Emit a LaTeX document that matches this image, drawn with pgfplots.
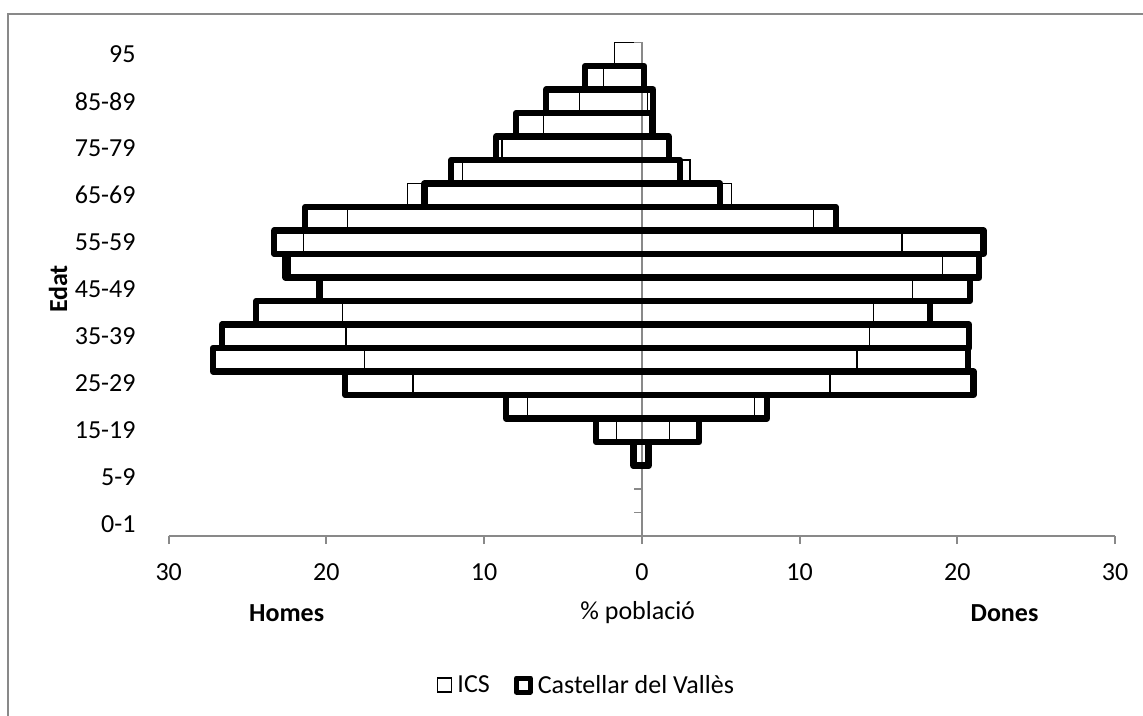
\documentclass[border=0pt]{standalone}
\usepackage{fontspec}
\setmainfont{Carlito}
\usepackage{pgfplots}
\usepackage{pgfplotstable}
\pgfplotsset{compat=1.18}
\definecolor{axgray}{RGB}{137,137,137}
\newcommand{\bigfont}{\fontsize{26}{31}\selectfont}

% ICS: men (negative) and women (positive), % of population by age group index
\pgfplotstableread{
y icsm icsw
3 -0.33 0.22
4 -1.60 1.74
5 -7.24 7.13
6 -14.52 11.93
7 -17.59 13.64
8 -18.75 14.42
9 -18.96 14.69
10 -20.30 17.16
11 -22.30 19.06
12 -21.45 16.49
13 -18.68 10.89
14 -14.88 5.69
15 -11.36 3.05
16 -8.86 1.62
17 -6.24 0.48
18 -3.96 0.37
19 -2.44 0.05
20 -1.74 0.00
}\icsdata

% Castellar del Valles
\pgfplotstableread{
y cm cw
3 -0.54 0.43
4 -2.90 3.64
5 -8.61 7.93
6 -18.81 21.03
7 -27.20 20.69
8 -26.63 20.75
9 -24.45 18.28
10 -20.44 20.80
11 -22.60 21.40
12 -23.30 21.66
13 -21.34 12.30
14 -13.78 4.95
15 -12.09 2.42
16 -9.24 1.70
17 -7.97 0.73
18 -6.07 0.72
19 -3.60 0.15
}\castdata

\begin{document}
\begin{tikzpicture}
\useasboundingbox (0pt,0pt) rectangle (1143pt,715pt);
\draw[axgray, line width=2pt] (8pt,-2pt) -- (8pt,701pt) -- (1145pt,701pt);

% ICS bars (white fill, thin outline)
\begin{axis}[
  at={(168.7pt,179pt)}, anchor=south west,
  scale only axis, width=946.3pt, height=493.5pt,
  xmin=-30, xmax=30, ymin=-0.5, ymax=20.5,
  axis lines=none, clip=false,
  xbar, bar width=1,
  legend image code/.code={\draw[#1] (0pt,-7pt) rectangle (14pt,7pt);},
  legend style={at={(0.2835,-0.302)}, anchor=west, draw=none, fill=none,
    legend columns=2, inner sep=0pt, font=\bigfont,
    nodes={inner sep=2pt, anchor=west},
    /tikz/every odd column/.append style={column sep=3pt},
    /tikz/every even column/.append style={column sep=22pt}},
]
\addplot[bar shift=0pt, fill=white, draw=black, line width=1.3pt] table[x=icsm, y=y] {\icsdata};
\addlegendentry{ICS}
\addplot[bar shift=0pt, fill=white, draw=black, line width=1.3pt, forget plot] table[x=icsw, y=y] {\icsdata};
\addlegendimage{draw=black, fill=white, line width=5pt, line join=round}
\addlegendentry{Castellar del Vallès}
\end{axis}

% Castellar bars (thick outline), stacked so each row is one box from men to women
\begin{axis}[
  at={(168.7pt,179pt)}, anchor=south west,
  scale only axis, width=946.3pt, height=493.5pt,
  xmin=-30, xmax=30, ymin=-0.5, ymax=20.5,
  clip=false, axis on top,
  xbar stacked, stack negative=on previous, bar width=1,
  axis x line*=bottom, axis y line*=left,
  x axis line style={axgray, line width=2pt, -},
  y axis line style={draw=none},
  xtick={-30,-20,...,30}, xticklabels={30,20,10,0,10,20,30},
  ytick={0,2,...,20},
  yticklabels={0-1,5-9,15-19,25-29,35-39,45-49,55-59,65-69,75-79,85-89,95},
  tick align=outside, major tick length=8pt,
  x tick style={axgray, line width=2pt},
  y tick style={draw=none},
  ticklabel style={font=\bigfont},
  xticklabel style={anchor=north, inner sep=0pt},
  xticklabel shift=19.7pt,
  yticklabel style={anchor=east, inner sep=0pt, xshift=-25pt},
]
\addplot[bar shift=0pt, draw=none, fill=none] table[x=cm, y=y] {\castdata};
\addplot[bar shift=0pt, draw=black, fill=none, line width=6.2pt, line join=round]
  table[x expr=\thisrow{cw}-\thisrow{cm}, y=y] {\castdata};
\draw[axgray, line width=2.2pt] (axis cs:0,-0.5) -- (axis cs:0,20.5);
\pgfplotsinvokeforeach{0,...,20}{
  \draw[axgray, line width=1.6pt] (axis cs:0,#1+0.5) -- ++(-8pt,0pt);
}
\end{axis}

\node[font=\bigfont\bfseries] at (286.7pt,102pt) {Homes};
\node[font=\bigfont] at (637.7pt,102pt) {\% població};
\node[font=\bigfont\bfseries] at (1004.5pt,102pt) {Dones};
\node[font=\bigfont\bfseries, rotate=90] at (58pt,426pt) {Edat};
\end{tikzpicture}
\end{document}
